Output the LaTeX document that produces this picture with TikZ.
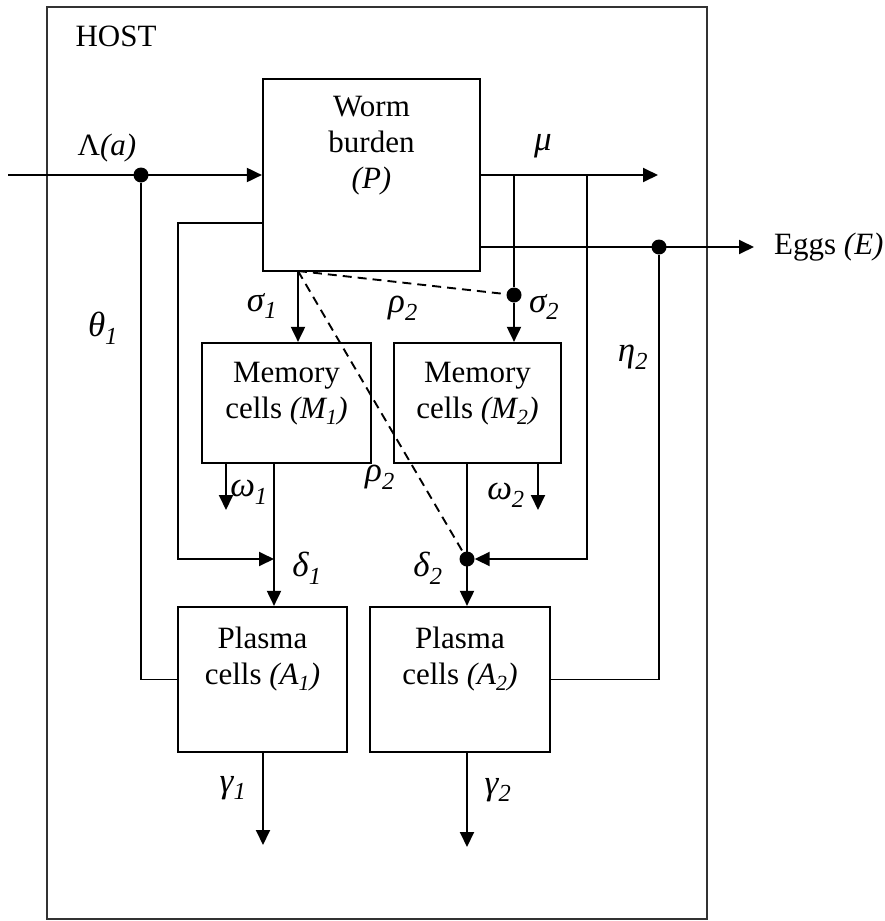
\documentclass[tikz,border=0pt]{standalone}
\usepackage{fontspec}
\setmainfont{Liberation Serif}
\usetikzlibrary{arrows.meta}
\newcommand\bxt[4]{\parbox[c][#2][t]{#1}{\centering\vspace*{#3}#4}}
\tikzset{
  ln/.style={line width=1.9pt},
  arr/.style={ln, -{Triangle[length=15pt,width=14pt]}},
  bx/.style={draw, line width=2.2pt, inner sep=0pt},
  dt/.style={circle, fill, inner sep=0pt, minimum size=15pt},
  dsh/.style={ln, dash pattern=on 9pt off 6pt},
  lbl/.style={inner sep=0pt},
  glbl/.style={inner sep=0pt, font=\fontsize{35}{40}\selectfont\itshape},
  hostframe/.style={draw=black!80, line width=2.4pt},
}
\begin{document}
\begin{tikzpicture}[x=1pt,y=-1pt, every node/.style={font=\fontsize{31}{36}\selectfont}]
\useasboundingbox (0,0) rectangle (884,921);
% frame
\draw[hostframe] (47,7) rectangle (707,919);
\node[lbl] (host) at (116,36) {HOST};
% boxes
\node[bx, minimum width=217pt, minimum height=192pt] (P) at (371.5,175)
  {\bxt{217pt}{192pt}{17pt}{Worm\\burden\\\textit{(P)}}};
\node[bx, minimum width=169pt, minimum height=120pt] (M1) at (286.5,403)
  {\bxt{169pt}{120pt}{19pt}{Memory\\cells \textit{(M\textsubscript{1})}}};
\node[bx, minimum width=167pt, minimum height=120pt] (M2) at (477.5,403)
  {\bxt{167pt}{120pt}{19pt}{Memory\\cells \textit{(M\textsubscript{2})}}};
\node[bx, minimum width=169pt, minimum height=145pt] (A1) at (262.5,679.5)
  {\bxt{169pt}{145pt}{20pt}{Plasma\\cells \textit{(A\textsubscript{1})}}};
\node[bx, minimum width=180pt, minimum height=145pt] (A2) at (460,679.5)
  {\bxt{180pt}{145pt}{20pt}{Plasma\\cells \textit{(A\textsubscript{2})}}};
% junction dots
\node[dt] (d1) at (141,175) {};
\node[dt] (d2) at (514,295) {};
\node[dt] (d3) at (467,559) {};
\node[dt] (d4) at (659,247) {};
% free ends
\coordinate (inS) at (8,175);
\coordinate (lp) at (178,223);
\coordinate (j1) at (274,559);
\coordinate (w1) at (226,510);
\coordinate (s1) at (298,271);
\coordinate (mu) at (658,175);
\coordinate (rl) at (587,559);
\coordinate (w2) at (538,510);
\coordinate (eg) at (754,247);
\coordinate (g1) at (263,845);
\coordinate (g2) at (467,847);
% connectors
\draw[arr] (inS) -- (P.west);
\draw[ln] (d1) -- (d1 |- A1.west) -- (A1.west);
\draw[arr] (P.west |- lp) -- (lp) -- (lp |- j1) -- (j1);
\draw[arr] (M1.south -| j1) -- (A1.north -| j1);
\draw[arr] (M1.south -| w1) -- (w1);
\draw[arr] (s1) -- (s1 |- M1.north);
\draw[arr] (P.east) -- (mu);
\draw[ln] (d2 |- P.east) -- (d2);
\draw[arr] (d2) -- (d2 |- M2.north);
\draw[arr] (rl |- P.east) -- (rl) -- (d3);
\draw[arr] (M2.south -| d3) -- (A2.north -| d3);
\draw[arr] (M2.south -| w2) -- (w2);
\draw[arr] (P.east |- eg) -- (eg);
\draw[ln] (A2.east) -- (A2.east -| d4) -- (d4);
\draw[dsh] (s1) -- (d2);
\draw[dsh] (s1) -- (d3);
\draw[arr] (A1.south -| g1) -- (g1);
\draw[arr] (A2.south -| g2) -- (g2);
% labels
\node[lbl] (lLam) at (107,148) {Λ\textit{(a)}};
\node[glbl] (lmu) at (543,146) {μ};
\node[lbl, anchor=west] (lE) at (774,247) {Eggs \textit{(E)}};
\node[glbl] (ls1) at (262,306) {σ\textsubscript{1}};
\node[glbl] (lr2a) at (403,308) {ρ\textsubscript{2}};
\node[glbl] (ls2) at (544,307) {σ\textsubscript{2}};
\node[glbl] (lth) at (103,328) {θ\textsubscript{1}};
\node[glbl] (leta) at (633,357) {η\textsubscript{2}};
\node[glbl] (lw1) at (249,492) {ω\textsubscript{1}};
\node[glbl] (lr2b) at (380,477) {ρ\textsubscript{2}};
\node[glbl] (ld1) at (307,568) {δ\textsubscript{1}};
\node[glbl] (ld2) at (428,568) {δ\textsubscript{2}};
\node[glbl] (lw2) at (506,495) {ω\textsubscript{2}};
\node[glbl] (lg1) at (233,788) {γ\textsubscript{1}};
\node[glbl] (lg2) at (498,790) {γ\textsubscript{2}};
\end{tikzpicture}
\end{document}
